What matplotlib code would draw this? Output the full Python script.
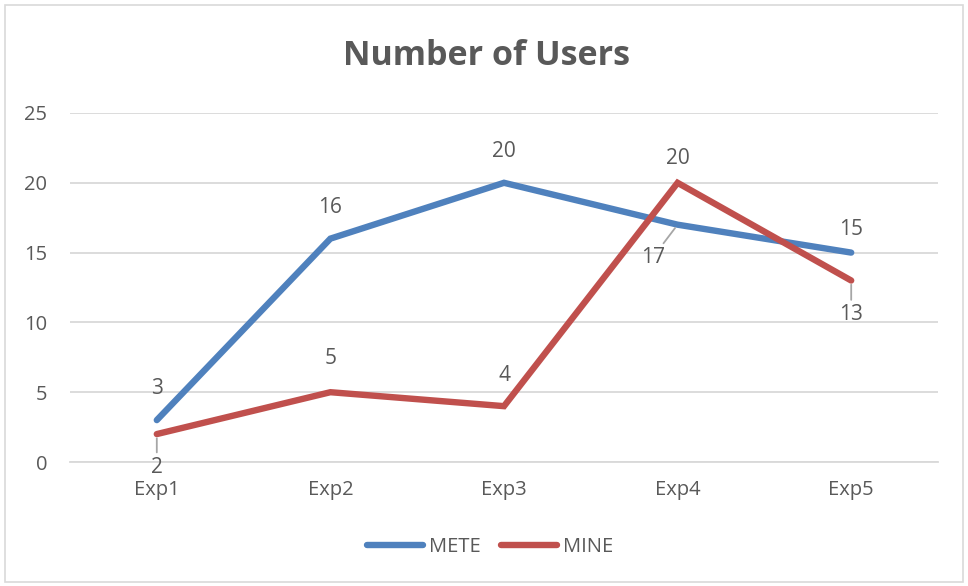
import matplotlib.pyplot as plt
from matplotlib.patches import Rectangle

categories = ["Exp1", "Exp2", "Exp3", "Exp4", "Exp5"]
mete = [3, 16, 20, 17, 15]
mine = [2, 5, 4, 20, 13]
yticks = [0, 5, 10, 15, 20, 25]

FONT = "Open Sans"
TXT = "#595959"
BLUE = "#4F81BD"
RED = "#C0504D"
GRID = "#D9D9D9"

fig = plt.figure(figsize=(9.68, 5.86), dpi=100)
ax = fig.add_axes([70/968, 1-462/586, 868/968, 349/586])

x = list(range(len(categories)))
ax.plot(x, mete, color=BLUE, lw=4.6, solid_capstyle="round", solid_joinstyle="miter", label="METE", zorder=3)
ax.plot(x, mine, color=RED, lw=4.6, solid_capstyle="round", solid_joinstyle="miter", label="MINE", zorder=4)

ax.set_xlim(-0.5, len(categories) - 0.5)
ax.set_ylim(0, 25)
ax.set_yticks(yticks)
ax.set_xticks(x)
ax.set_xticklabels(categories)
ax.grid(axis="y", color=GRID, lw=1.3)
ax.set_axisbelow(True)
for s in ["top", "right", "left"]:
    ax.spines[s].set_visible(False)
ax.spines["bottom"].set_color(GRID)
ax.spines["bottom"].set_linewidth(1.3)
ax.tick_params(length=0, labelsize=14.5, labelcolor=TXT)
ax.tick_params(axis="x", pad=13)
ax.tick_params(axis="y", pad=16.5)
for t in ax.get_xticklabels() + ax.get_yticklabels():
    t.set_fontfamily(FONT)

# label offsets in pixels (dx, dy; positive dy = up)
mete_off = [(0, 32), (0, 31), (0, 31), (-25, -33), (0, 23)]
mine_off = [(0, -33), (0, 34), (0, 31), (0, 24), (0, -34)]
mete_leader = [False, False, False, True, False]
mine_leader = [True, False, False, False, True]

def label(series, offs, leaders):
    for i, (v, (dx, dy), ld) in enumerate(zip(series, offs, leaders)):
        kw = {}
        if ld:
            kw["arrowprops"] = dict(arrowstyle="-", color="#A6A6A6", lw=1.3, shrinkA=1, shrinkB=3)
        ax.annotate(str(v), (i, v), xytext=(dx * 0.72, dy * 0.72), textcoords="offset points",
                    ha="center", va="center", fontsize=15, color=TXT, family=FONT, zorder=5, **kw)

label(mete, mete_off, mete_leader)
label(mine, mine_off, mine_leader)

fig.text(0.503, 1-56/586, "Number of Users", ha="center", va="center", fontsize=24.5,
         fontweight="bold", color=TXT, family=FONT)

leg = fig.legend(loc="center", bbox_to_anchor=(490/968, 1-547/586), ncol=2, frameon=False,
                 prop={"family": FONT, "size": 14.5}, handlelength=2.8, columnspacing=1.0,
                 handletextpad=0.3)
for t in leg.get_texts():
    t.set_color(TXT)

fig.patches.append(Rectangle((5/968, 4/586), 958/968, 577/586, transform=fig.transFigure,
                             fill=False, edgecolor="#D9D9D9", lw=1.2))

fig.savefig("out.png", dpi=100, facecolor="white")
